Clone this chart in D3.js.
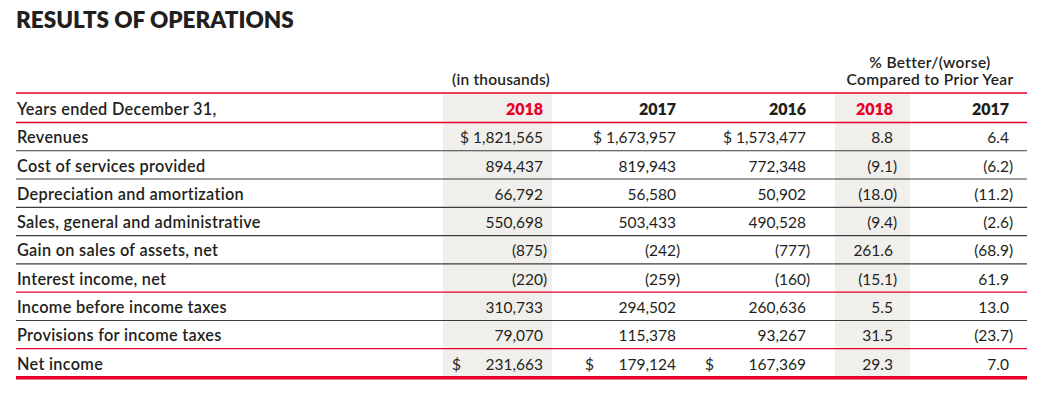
<!DOCTYPE html>
<html><head><meta charset="utf-8">
<script src="https://cdn.jsdelivr.net/npm/d3@7"></script>
<style>body{margin:0;background:#fff} text{font-family:Lato, "Open Sans", sans-serif; fill:#231f20}</style>
</head><body><svg id="c" width="1048" height="407"></svg>
<script>
// ---- data ----
const title = "RESULTS OF OPERATIONS";
const unitLabel = "(in thousands)";
const pctHeader = ["% Better/(worse)", "Compared to Prior Year"];
const stubHeader = "Years ended December 31,";
const rowLabels = ["Revenues", "Cost of services provided", "Depreciation and amortization",
  "Sales, general and administrative", "Gain on sales of assets, net", "Interest income, net",
  "Income before income taxes", "Provisions for income taxes", "Net income"];
const yearCols = ["2018", "2017", "2016"];
const pctCols = ["2018", "2017"];
const v2018 = [1821565, 894437, 66792, 550698, -875, -220, 310733, 79070, 231663];
const v2017 = [1673957, 819943, 56580, 503433, -242, -259, 294502, 115378, 179124];
const v2016 = [1573477, 772348, 50902, 490528, -777, -160, 260636, 93267, 167369];
const p2018 = [8.8, -9.1, -18.0, -9.4, 261.6, -15.1, 5.5, 31.5, 29.3];
const p2017 = [6.4, -6.2, -11.2, -2.6, -68.9, 61.9, 13.0, -23.7, 7.0];

// ---- layout / style ----
const RED = "#e8002a", DARK = "#3c3c3c";
const ruleAfter = ["dark","dark","dark","dark","dark","red","dark","red","thick"];
const colKeys = ["v2018","v2017","v2016","p2018","p2017"];
const colValues = {v2018, v2017, v2016, p2018, p2017};
const colHeads = {v2018:yearCols[0], v2017:yearCols[1], v2016:yearCols[2], p2018:pctCols[0], p2017:pctCols[1]};
const highlight = {v2018:true, p2018:true};

const svg = d3.select("#c");
const left = 16, right = 1027, headTop = 93;
const y = d3.scaleBand().domain(rowLabels).range([122.5, 377]);
const xRight = d3.scaleOrdinal().domain(colKeys).range([543, 676, 806, 893, 1009]);
const xDollar = d3.scaleOrdinal().domain(["v2018","v2017","v2016"]).range([452, 585, 705]);
const shade = d3.scaleOrdinal().domain(["v2018","p2018"]).range([[443,552],[835,910]]);

const fmtN = d3.format(",");
const fmtP = d3.format(".1f");

// shading
["v2018","p2018"].forEach(k => {
  const [a,b] = shade(k);
  svg.append("rect").attr("x", a).attr("y", headTop).attr("width", b-a)
    .attr("height", y.range()[1]-headTop).attr("fill", "#f0efec");
});

// rules
function hline(yy, color, w){
  svg.append("line").attr("x1", left).attr("x2", right).attr("y1", yy).attr("y2", yy)
    .attr("stroke", color).attr("stroke-width", w);
}
hline(headTop, RED, 1.3);
hline(y.range()[0], RED, 1.3);
rowLabels.forEach((r,i) => {
  const yy = y(r) + y.bandwidth();
  const s = ruleAfter[i];
  if (s === "thick") hline(yy+0.8, RED, 3.6);
  else if (s === "red") hline(yy, RED, 1.2);
  else hline(yy, DARK, 1.1);
});

// title
svg.append("text").attr("x", 16).attr("y", 28).attr("font-size", 22.5)
  .attr("font-weight", 800).style("letter-spacing","0px").text(title);

// headers
svg.append("text").attr("x", 501).attr("y", 85).attr("text-anchor","middle")
  .attr("font-size", 15.5).attr("font-weight", 600).style("letter-spacing","0.2px").text(unitLabel);
pctHeader.forEach((t,i) => svg.append("text").attr("x", 930).attr("y", 68 + i*17)
  .attr("text-anchor","middle").attr("font-size", 15.5).attr("font-weight", 600)
  .style("letter-spacing","0.35px").text(t));
svg.append("text").attr("x", 17).attr("y", 115).attr("font-size", 16.3)
  .attr("font-weight", 600).style("letter-spacing","0.3px").text(stubHeader);
colKeys.forEach(k => svg.append("text").attr("x", xRight(k)).attr("y", 115)
  .attr("text-anchor","end").attr("font-size", 16).attr("font-weight", 800)
  .style("fill", highlight[k] ? RED : "#231f20").text(colHeads[k]));

// rows
rowLabels.forEach((r,i) => {
  const by = y(r) + y.bandwidth() - 7.5;
  svg.append("text").attr("x", 17).attr("y", by).attr("font-size", 16.3)
    .attr("font-weight", 600).style("letter-spacing","0.3px").text(r);
  colKeys.forEach(k => {
    const v = colValues[k][i];
    const isPct = k[0] === "p";
    let s = isPct ? fmtP(Math.abs(v)) : fmtN(Math.abs(v));
    if (v < 0) s = "(" + s;
    if (!isPct && i === 0) s = "$ " + s;
    svg.append("text").attr("x", xRight(k)).attr("y", by).attr("text-anchor","end")
      .attr("font-size", 15.5).text(s);
    if (v < 0) svg.append("text").attr("x", xRight(k)).attr("y", by)
      .attr("font-size", 15.5).text(")");
    if (!isPct && i === rowLabels.length-1)
      svg.append("text").attr("x", xDollar(k)).attr("y", by).attr("font-size", 15.5).text("$");
  });
});
</script></body></html>
